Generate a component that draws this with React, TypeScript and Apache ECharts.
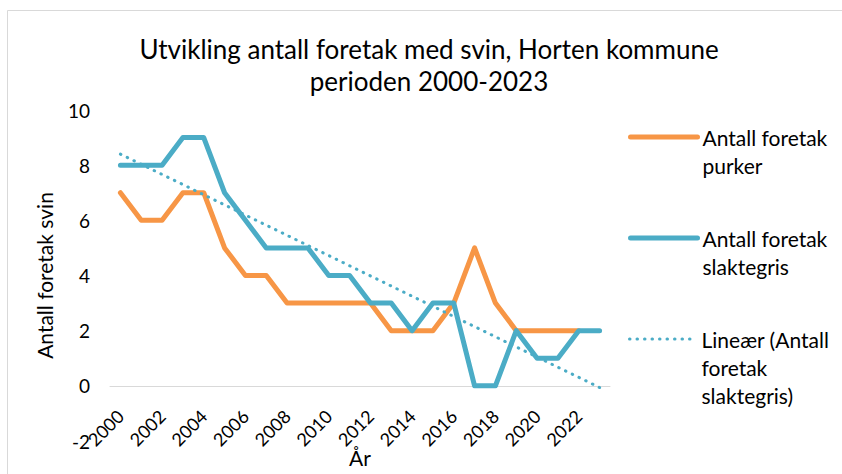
import React, { useEffect, useRef } from 'react';
import * as echarts from 'echarts';

const years = ['2000', '2001', '2002', '2003', '2004', '2005', '2006', '2007', '2008', '2009', '2010', '2011',
  '2012', '2013', '2014', '2015', '2016', '2017', '2018', '2019', '2020', '2021', '2022', '2023'];
const purker = [7, 6, 6, 7, 7, 5, 4, 4, 3, 3, 3, 3, 3, 2, 2, 2, 3, 5, 3, 2, 2, 2, 2, null];
const slaktegris = [8, 8, 8, 9, 9, 7, 6, 5, 5, 5, 4, 4, 3, 3, 2, 3, 3, 0, 0, 2, 1, 1, 2, 2];
const trendYears = ['2000', '2023'];
const trendValues = [8.4, -0.06];

const seriesNames = ['Antall foretak purker', 'Antall foretak slaktegris', 'Lineær (Antall foretak slaktegris)'];
const legendLines = [['Antall foretak', 'purker'], ['Antall foretak', 'slaktegris'], ['Lineær (Antall', 'foretak', 'slaktegris)']];

const ORANGE = '#F79646';
const TEAL = '#4BACC6';
const FONT = 'Lato, "Open Sans", sans-serif';

export default function App() {
  const ref = useRef<HTMLDivElement>(null);
  useEffect(() => {
    if (!ref.current) return;
    const chart = echarts.init(ref.current, null, { renderer: 'svg' });
    const L = 28;
    const mkLegend = (i: number, top: number, lineStyle: any) => {
      const lines = legendLines[i];
      return {
        show: true,
        left: 628,
        top,
        padding: 0,
        orient: 'vertical',
        itemWidth: 67,
        itemHeight: 14,
        data: [seriesNames[i]],
        formatter: () => ['{b| }'].concat(lines.map((s) => '{a|' + s + '}')).join('\n'),
        selectedMode: false,
        itemStyle: { opacity: 0 },
        lineStyle,
        textStyle: {
          fontFamily: FONT,
          fontSize: 21,
          color: '#000',
          rich: {
            a: { fontFamily: FONT, fontSize: 21, color: '#000', lineHeight: L },
            b: { fontFamily: FONT, fontSize: 2, color: '#000', lineHeight: L * (lines.length - 1) },
          },
        },
      };
    };
    chart.setOption({
      animation: false,
      backgroundColor: '#fff',
      textStyle: { fontFamily: FONT },
      title: {
        text: 'Utvikling antall foretak med svin, Horten kommune\nperioden 2000-2023',
        left: 424,
        textAlign: 'center',
        top: 28,
        textStyle: { fontFamily: FONT, fontSize: 26, fontWeight: 'normal', color: '#000', lineHeight: 32 },
      },
      graphic: [
        {
          type: 'rect',
          shape: { x: 7.5, y: 10.5, width: 845, height: 475 },
          style: { fill: 'none', stroke: '#d9d9d9', lineWidth: 1 },
          silent: true,
        },
      ],
      legend: [
        mkLegend(0, 108, { width: 5, cap: 'round', color: ORANGE }),
        mkLegend(1, 209, { width: 5, cap: 'round', color: TEAL }),
        mkLegend(2, 296, { width: 3, cap: 'round', type: [0.5, 7], color: TEAL }),
      ],
      grid: { left: 110, right: 232, top: 110, bottom: 33, containLabel: false, outerBoundsMode: 'none' },
      xAxis: {
        type: 'category',
        data: years,
        boundaryGap: true,
        offset: -55,
        name: 'År',
        nameLocation: 'middle',
        nameGap: 61,
        nameMoveOverlap: false,
        nameTextStyle: { fontFamily: FONT, fontSize: 21, color: '#000' },
        axisLine: { show: true, onZero: false, lineStyle: { color: '#d9d9d9', width: 1 } },
        axisTick: { show: false },
        axisLabel: {
          interval: 1,
          rotate: 45,
          margin: 27,
          fontFamily: FONT,
          fontSize: 18,
          color: '#000',
        },
        splitLine: { show: false },
      },
      yAxis: {
        type: 'value',
        min: -2,
        max: 10,
        interval: 2,
        name: 'Antall foretak svin',
        nameLocation: 'middle',
        nameGap: 55,
        nameTextStyle: { fontFamily: FONT, fontSize: 21, color: '#000' },
        axisLine: { show: false },
        axisTick: { show: false },
        splitLine: { show: false },
        axisLabel: { margin: 20, fontFamily: FONT, fontSize: 19, color: '#000' },
      },
      series: [
        {
          name: seriesNames[0],
          type: 'line',
          data: purker,
          symbol: 'none',
          color: ORANGE,
          lineStyle: { color: ORANGE, width: 5, cap: 'round', join: 'round' },
        },
        {
          name: seriesNames[1],
          type: 'line',
          data: slaktegris,
          symbol: 'none',
          color: TEAL,
          lineStyle: { color: TEAL, width: 5, cap: 'round', join: 'round' },
        },
        {
          name: seriesNames[2],
          type: 'line',
          data: trendYears.map((y, i) => [y, trendValues[i]]),
          symbol: 'none',
          color: TEAL,
          lineStyle: { color: TEAL, width: 3, type: [0.5, 7], cap: 'round' },
          z: 5,
        },
      ],
    });
    return () => chart.dispose();
  }, []);
  return <div ref={ref} style={{ position: 'absolute', left: 0, top: 0, width: 842, height: 474 }} />;
}
